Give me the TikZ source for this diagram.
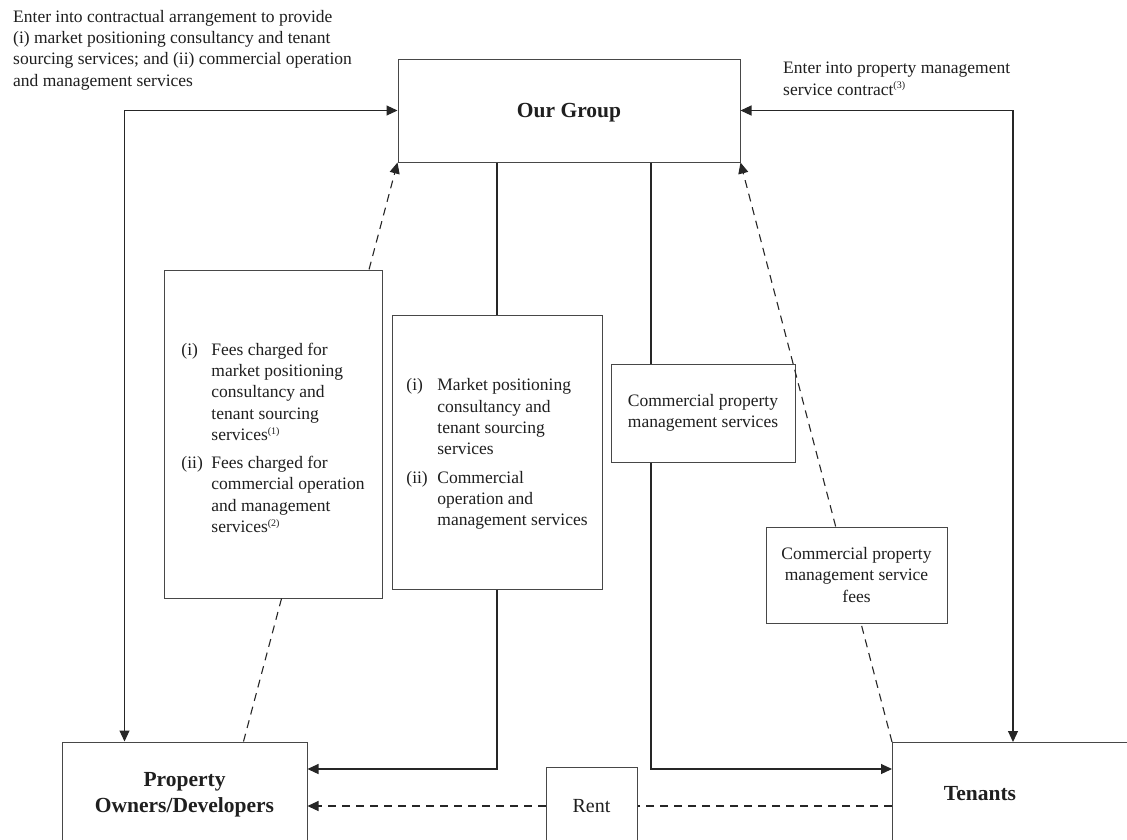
\documentclass[tikz,border=0pt]{standalone}
\usepackage{fontspec}
\setmainfont{Liberation Serif}
\usetikzlibrary{arrows.meta,calc}

% small parenthesised note markers
\newcommand\noteref[1]{\textsuperscript{\fontsize{10}{10}\selectfont(#1)}}

\tikzset{
  box/.style={draw=black!72, line width=1pt, fill=white, rectangle, inner sep=0pt, text=black!88},
  link/.style={draw=black!85, line width=1.1pt},
  tip/.style={-{Triangle[length=11pt,width=10pt]}},
  twotips/.style={{Triangle[length=11pt,width=10pt]}-{Triangle[length=11pt,width=10pt]}},
  dashline/.style={dash pattern=on 8pt off 6pt},
  body/.style={font=\fontsize{17.5}{21.3}\selectfont, text=black!88},
  head/.style={font=\fontsize{21.5}{26}\selectfont\bfseries, text=black!88},
}

\begin{document}
\begin{tikzpicture}[x=1pt,y=-1pt]
\clip (0,0) rectangle (1127,839);
\fill[white] (0,0) rectangle (1127,839);

% ---------- boxes ----------
\node[box, head, text depth=0pt, minimum width=342, minimum height=103] (og) at (569,110.5) {Our Group};

\node[box, body, minimum width=218, minimum height=328] (lf) at (273,434) {%
\begin{tabular}{@{}p{30pt}@{}l@{}}
\rule{0pt}{26pt}(i)  & Fees charged for\\
     & market positioning\\
     & consultancy and\\
     & tenant sourcing\\
     & services\noteref{1}\\[6.7pt]
(ii) & Fees charged for\\
     & commercial operation\\
     & and management\\
     & services\noteref{2}
\end{tabular}};

\node[box, body, minimum width=210, minimum height=274] (mid) at (497,452) {%
\begin{tabular}{@{}p{31pt}@{}l@{}}
\rule{0pt}{19pt}(i)  & Market positioning\\
     & consultancy and\\
     & tenant sourcing\\
     & services\\[7pt]
(ii) & Commercial\\
     & operation and\\
     & management services
\end{tabular}};

\node[box, body, align=center, minimum width=184, minimum height=98] (cpm) at (703,413)
  {Commercial property\\management services};

\node[box, body, align=center, minimum width=181, minimum height=96] (fee) at (856.5,575)
  {Commercial property\\management service\\fees};

\node[box, head, align=center, text depth=0pt, minimum width=245, minimum height=100] (po) at (184.5,792)
  {Property\\Owners/Developers};

\node[box, body, font=\fontsize{20}{24}\selectfont, text depth=0pt, minimum width=91, minimum height=78] (rent) at (591.5,806) {Rent};

\node[box, anchor=north west, minimum width=260, minimum height=100] (ten) at (892,742) {};
\node[head, text depth=0pt] (tenlbl) at (980,793) {Tenants};

% ---------- captions ----------
\node[body, align=left, anchor=north west, inner sep=0pt] (capL) at (13,10)
  {Enter into contractual arrangement to provide\\
   (i) market positioning consultancy and tenant\\
   sourcing services; and (ii) commercial operation\\
   and management services};
\node[body, align=left, anchor=north west, inner sep=0pt] (capR) at (783,62)
  {Enter into property management\\
   service contract\noteref{3}};

% ---------- contractual links ----------
\draw[link, twotips] ($(po.north west)+(63,0)$) |- (og.west);
\draw[link, twotips] (og.east) -| ($(ten.north west)+(121,0)$);

% ---------- service flows ----------
\draw[link] (og.south -| mid.north) -- (mid.north);
\draw[link, tip] (mid.south) |- (po.east |- 0,769);
\draw[link] (og.south -| 651,0) -- (cpm.north -| 651,0);
\draw[link, tip] (cpm.south -| 651,0) |- (ten.west |- 0,769);

% ---------- fee flows (dashed) ----------
\coordinate (ogSW) at (og.south west);
\coordinate (ogSE) at (og.south east);
\coordinate (poT) at ($(po.north west)+(182,0)$);
\coordinate (tenNW) at (ten.north west);
\coordinate (lfNW) at (lf.north west);
\coordinate (lfNE) at (lf.north east);
\coordinate (lfSW) at (lf.south west);
\coordinate (lfSE) at (lf.south east);
\coordinate (feeNW) at (fee.north west);
\coordinate (feeNE) at (fee.north east);
\coordinate (feeSW) at (fee.south west);
\coordinate (feeSE) at (fee.south east);

\draw[link, dashline, tip] (intersection of poT--ogSW and lfNW--lfNE) -- (ogSW);
\draw[link, dashline] (poT) -- (intersection of poT--ogSW and lfSW--lfSE);
\draw[link, dashline, tip] (intersection of tenNW--ogSE and feeNW--feeNE) -- (ogSE);
\draw[link, dashline] (tenNW) -- (intersection of tenNW--ogSE and feeSW--feeSE);

% ---------- rent ----------
\draw[link, dashline] (ten.west |- rent.east) -- (rent.east);
\draw[link, dashline, tip] (rent.west) -- (po.east |- rent.west);
\end{tikzpicture}
\end{document}
